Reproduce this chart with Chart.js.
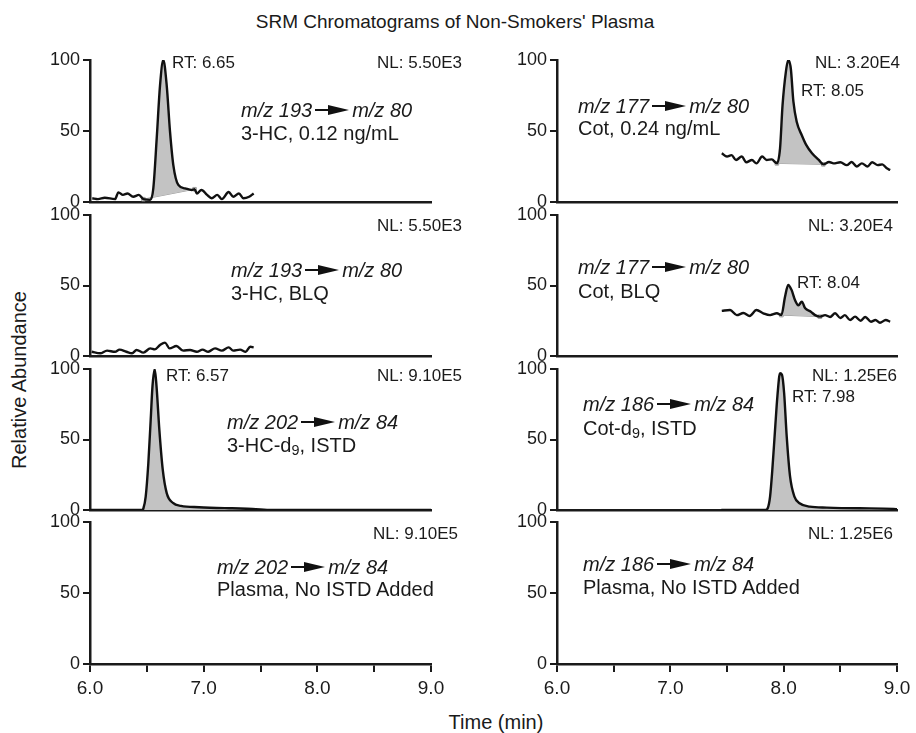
<!DOCTYPE html>
<html>
<head>
<meta charset="utf-8">
<script src="https://cdn.jsdelivr.net/npm/chart.js@4.4.0/dist/chart.umd.min.js"></script>
<style>
  body { margin: 0; background: #fff; }
  #fig { position: relative; width: 916px; height: 733px; overflow: hidden;
         font-family: "Liberation Sans", Arial, sans-serif; color: #1a1a1a; }
  #fig canvas { position: absolute; }
  .lbl { position: absolute; white-space: nowrap; line-height: 1; }
  .lbl i { font-style: italic; }
  .lbl sub { font-size: 0.72em; vertical-align: -0.18em; line-height: 0; }
  .arr { display: inline-block; position: relative; width: 34px; height: 10px; margin: 0 3px; vertical-align: 0.12em; }
  .arr::before { content: ""; position: absolute; left: 0; right: 16px; top: 4px; height: 2px; background: #111; }
  .arr::after { content: ""; position: absolute; right: 0; top: 0; border-left: 21px solid #111;
                border-top: 5px solid transparent; border-bottom: 5px solid transparent; }
</style>
</head>
<body>
<div id="fig"></div>
<script>
// axis ticks
const timeTicks = [6, 7, 8, 9];
const abundanceTicks = [0, 50, 100];

// 3-HC, 0.12 ng/mL  (m/z 193 -> 80)
const hcTime = [6.02, 6.07, 6.13, 6.22, 6.25, 6.29, 6.33, 6.38, 6.43, 6.47, 6.53, 6.557, 6.587, 6.616, 6.645, 6.675, 6.704, 6.733, 6.777, 6.836, 6.895, 6.92, 6.94, 6.98, 7.03, 7.07, 7.12, 7.16, 7.22, 7.26, 7.31, 7.35, 7.40, 7.44];
const hcVal  = [2.6, 2, 3, 2, 6.8, 5, 6, 3.7, 5, 2, 1.5, 9.6, 45, 82, 100, 82, 49.5, 26, 12, 9.6, 8.5, 9, 6, 8.5, 5, 2.6, 5, 2, 7, 3.7, 6, 2.6, 3.7, 6];
const hcBaseTime = [6.47, 6.92];
const hcBaseVal  = [2, 9];

// 3-HC, BLQ
const hcBlqTime = [6.015, 6.09, 6.15, 6.22, 6.26, 6.32, 6.37, 6.41, 6.47, 6.53, 6.57, 6.616, 6.66, 6.70, 6.76, 6.82, 6.88, 6.94, 6.99, 7.04, 7.10, 7.16, 7.22, 7.26, 7.32, 7.37, 7.41, 7.44];
const hcBlqVal  = [3, 1.9, 3.8, 3, 4.5, 3, 1.9, 4.3, 2.4, 5.4, 4.7, 7.8, 9.5, 5.4, 7.1, 3.8, 4.3, 3, 4.5, 3, 5.4, 3.8, 6.1, 3.8, 4.5, 3, 6.6, 6.1];

// 3-HC-d9, ISTD  (m/z 202 -> 84)
const hcIstdTime = [6.0, 6.46, 6.47, 6.49, 6.513, 6.534, 6.55, 6.569, 6.585, 6.61, 6.64, 6.675, 6.73, 6.80, 6.96, 7.25, 7.43, 7.6, 9.0];
const hcIstdVal  = [0, 0, 1.2, 9.5, 33, 64, 88, 100, 88, 57, 28.6, 12, 5, 2.9, 2, 1.2, 0.8, 0, 0];

// Cot, 0.24 ng/mL  (m/z 177 -> 80)
const cotTime = [7.454, 7.50, 7.54, 7.58, 7.63, 7.67, 7.72, 7.76, 7.81, 7.85, 7.895, 7.94, 7.968, 7.99, 8.02, 8.04, 8.063, 8.086, 8.115, 8.16, 8.20, 8.25, 8.31, 8.35, 8.40, 8.44, 8.50, 8.557, 8.60, 8.645, 8.69, 8.74, 8.78, 8.83, 8.87, 8.91, 8.94];
const cotVal  = [34.3, 32, 33, 29.6, 32, 28, 29.6, 27.2, 32, 29.6, 30, 27.2, 37.8, 68, 92, 100, 94, 70.6, 56.5, 47, 40, 34.3, 29.6, 26.5, 28.2, 27.2, 28, 26, 28.2, 25, 27.2, 25, 28, 26, 26.5, 23.7, 22.5];
const cotBaseTime = [7.94, 8.35];
const cotBaseVal  = [27.2, 26.5];

// Cot, BLQ
const cotBlqTime = [7.454, 7.527, 7.586, 7.645, 7.70, 7.76, 7.82, 7.88, 7.94, 7.98, 8.012, 8.04, 8.07, 8.10, 8.13, 8.16, 8.19, 8.24, 8.277, 8.32, 8.365, 8.41, 8.454, 8.50, 8.54, 8.586, 8.63, 8.68, 8.72, 8.77, 8.81, 8.85, 8.90, 8.94];
const cotBlqVal  = [32, 32.6, 29, 30.5, 28.4, 32.6, 30.3, 29, 30.3, 29, 42, 50.4, 46.8, 39.7, 36, 38.5, 33.8, 31.4, 29, 27.9, 29, 27.7, 30.3, 27, 29, 25.5, 27.9, 25, 27.7, 24.3, 25.5, 23.6, 25.5, 24.3];
const cotBlqBaseTime = [7.98, 8.32];
const cotBlqBaseVal  = [29, 27.9];

// Cot-d9, ISTD  (m/z 186 -> 84)
const cotIstdTime = [7.45, 7.84, 7.86, 7.88, 7.90, 7.924, 7.945, 7.968, 7.985, 8.004, 8.027, 8.056, 8.095, 8.14, 8.23, 8.38, 8.67, 8.97, 9.0];
const cotIstdVal  = [0, 0, 1.4, 9.5, 28.6, 57, 81, 97, 96, 83, 52, 24, 9.5, 4.8, 2.4, 1.7, 1.2, 0.8, 0.5];

const FONT = '"Liberation Sans", Arial, sans-serif';
const INK = '#1a1a1a';
const FILL = '#c3c3c3';
const colLeft = [90, 557], colRight = [431, 897];
const rowTop = [60, 215, 369, 522], rowBottom = [202, 356, 510, 664];
const AXIS_W = 50, PAD_R = 20, PAD_T = 14, PAD_B = 14, XAXIS_H = 42;

const panels = [
  { col: 0, row: 0, time: hcTime, val: hcVal, baseTime: hcBaseTime, baseVal: hcBaseVal },
  { col: 0, row: 1, time: hcBlqTime, val: hcBlqVal },
  { col: 0, row: 2, time: hcIstdTime, val: hcIstdVal, area: true },
  { col: 0, row: 3 },
  { col: 1, row: 0, time: cotTime, val: cotVal, baseTime: cotBaseTime, baseVal: cotBaseVal },
  { col: 1, row: 1, time: cotBlqTime, val: cotBlqVal, baseTime: cotBlqBaseTime, baseVal: cotBlqBaseVal },
  { col: 1, row: 2, time: cotIstdTime, val: cotIstdVal, area: true },
  { col: 1, row: 3 }
];

const mz = (a, b) => `<i>m/z ${a}</i><span class="arr"></span><i>m/z ${b}</i>`;

const notes = [
  { x: 172, y: 62, s: 17, t: 'RT: 6.65' },
  { x: 377, y: 62, s: 17, t: 'NL: 5.50E3' },
  { x: 241, y: 110, s: 20, t: mz(193, 80) },
  { x: 241, y: 133, s: 20, t: '3-HC, 0.12 ng/mL' },
  { x: 377, y: 225, s: 17, t: 'NL: 5.50E3' },
  { x: 231, y: 270, s: 20, t: mz(193, 80) },
  { x: 231, y: 293, s: 20, t: '3-HC, BLQ' },
  { x: 166, y: 375, s: 17, t: 'RT: 6.57' },
  { x: 377, y: 375, s: 17, t: 'NL: 9.10E5' },
  { x: 227, y: 422, s: 20, t: mz(202, 84) },
  { x: 227, y: 445, s: 20, t: '3-HC-d<sub>9</sub>, ISTD' },
  { x: 373, y: 533, s: 17, t: 'NL: 9.10E5' },
  { x: 217, y: 567, s: 20, t: mz(202, 84) },
  { x: 217, y: 589, s: 20, t: 'Plasma, No ISTD Added' },
  { x: 815, y: 62, s: 17, t: 'NL: 3.20E4' },
  { x: 801, y: 90, s: 17, t: 'RT: 8.05' },
  { x: 578, y: 106, s: 20, t: mz(177, 80) },
  { x: 578, y: 128, s: 20, t: 'Cot, 0.24 ng/mL' },
  { x: 808, y: 225, s: 17, t: 'NL: 3.20E4' },
  { x: 578, y: 267, s: 20, t: mz(177, 80) },
  { x: 578, y: 291, s: 20, t: 'Cot, BLQ' },
  { x: 797, y: 282, s: 17, t: 'RT: 8.04' },
  { x: 812, y: 375, s: 17, t: 'NL: 1.25E6' },
  { x: 792, y: 396, s: 17, t: 'RT: 7.98' },
  { x: 583, y: 404, s: 20, t: mz(186, 84) },
  { x: 583, y: 428, s: 20, t: 'Cot-d<sub>9</sub>, ISTD' },
  { x: 808, y: 533, s: 17, t: 'NL: 1.25E6' },
  { x: 583, y: 564, s: 20, t: mz(186, 84) },
  { x: 583, y: 587, s: 20, t: 'Plasma, No ISTD Added' }
];

const fig = document.getElementById('fig');

function toPoints(time, val) {
  return time.map((t, i) => ({ x: t, y: val[i] }));
}

function renderPanel(p) {
  const last = p.row === 3;
  const left = colLeft[p.col], right = colRight[p.col];
  const top = rowTop[p.row], bottom = rowBottom[p.row];
  const cv = document.createElement('canvas');
  cv.width = right - left + AXIS_W + PAD_R;
  cv.height = bottom - top + PAD_T + (last ? XAXIS_H : PAD_B);
  cv.style.left = (left - AXIS_W) + 'px';
  cv.style.top = (top - PAD_T) + 'px';
  fig.appendChild(cv);

  const datasets = [];
  if (p.time) {
    const pts = toPoints(p.time, p.val);
    datasets.push({
      data: pts, borderColor: '#111', borderWidth: 2.4, pointRadius: 0,
      cubicInterpolationMode: 'monotone',
      fill: p.area ? 'origin' : false, backgroundColor: FILL
    });
    if (p.baseTime) {
      const t0 = p.baseTime[0], t1 = p.baseTime[p.baseTime.length - 1];
      datasets.push({
        data: pts.filter(pt => pt.x >= t0 && pt.x <= t1),
        borderColor: 'rgba(0,0,0,0)', borderWidth: 1, pointRadius: 0,
        cubicInterpolationMode: 'monotone', fill: '+1', backgroundColor: FILL
      });
      datasets.push({
        data: toPoints(p.baseTime, p.baseVal),
        borderColor: '#9c9c9c', borderWidth: 1, fill: false,
        pointStyle: 'rect', pointRadius: 2.5, pointBorderWidth: 1,
        pointBorderColor: '#9c9c9c', pointBackgroundColor: '#fff'
      });
    }
  }

  new Chart(cv, {
    type: 'line',
    data: { datasets },
    options: {
      responsive: false,
      animation: false,
      events: [],
      layout: { padding: { left: 0, right: PAD_R, top: PAD_T, bottom: last ? 0 : PAD_B } },
      plugins: { legend: { display: false }, tooltip: { enabled: false } },
      scales: {
        x: {
          type: 'linear', min: 6, max: 9,
          border: { color: INK, width: 2.5 },
          grid: { display: last, drawOnChartArea: false, drawTicks: true, tickLength: 8, color: INK, lineWidth: 2 },
          ticks: {
            display: last, stepSize: 0.5, autoSkip: false, maxRotation: 0, padding: 5,
            color: INK, font: { family: FONT, size: 19 },
            callback: v => {
              const hit = timeTicks.find(t => Math.abs(t - v) < 1e-6);
              return hit === undefined ? '' : hit.toFixed(1);
            }
          },
          afterFit: s => { s.height = last ? XAXIS_H : 0; }
        },
        y: {
          min: 0, max: 100,
          border: { color: INK, width: 2.5 },
          grid: { drawOnChartArea: false, drawTicks: true, tickLength: 7, color: INK, lineWidth: 2 },
          ticks: {
            stepSize: 50, padding: 3, color: INK, font: { family: FONT, size: 18 },
            callback: v => abundanceTicks.includes(v) ? String(v) : ''
          },
          afterFit: s => { s.width = AXIS_W; }
        }
      }
    }
  });
}

function addText(html, x, y, size, extra) {
  const d = document.createElement('div');
  d.className = 'lbl';
  d.innerHTML = html;
  d.style.fontSize = size + 'px';
  d.style.left = x + 'px';
  d.style.top = (y - size * 0.49) + 'px';
  if (extra) Object.assign(d.style, extra);
  fig.appendChild(d);
  return d;
}

panels.forEach(renderPanel);
notes.forEach(n => addText(n.t, n.x, n.y, n.s));

addText("SRM Chromatograms of Non-Smokers' Plasma", 455, 21, 19, { transform: 'translateX(-50%)' });
addText('Time (min)', 496, 722, 20, { transform: 'translateX(-50%)' });
addText('Relative Abundance', 19, 380, 20, { top: '380px', transform: 'translate(-50%,-50%) rotate(-90deg)' });
</script>
</body>
</html>
